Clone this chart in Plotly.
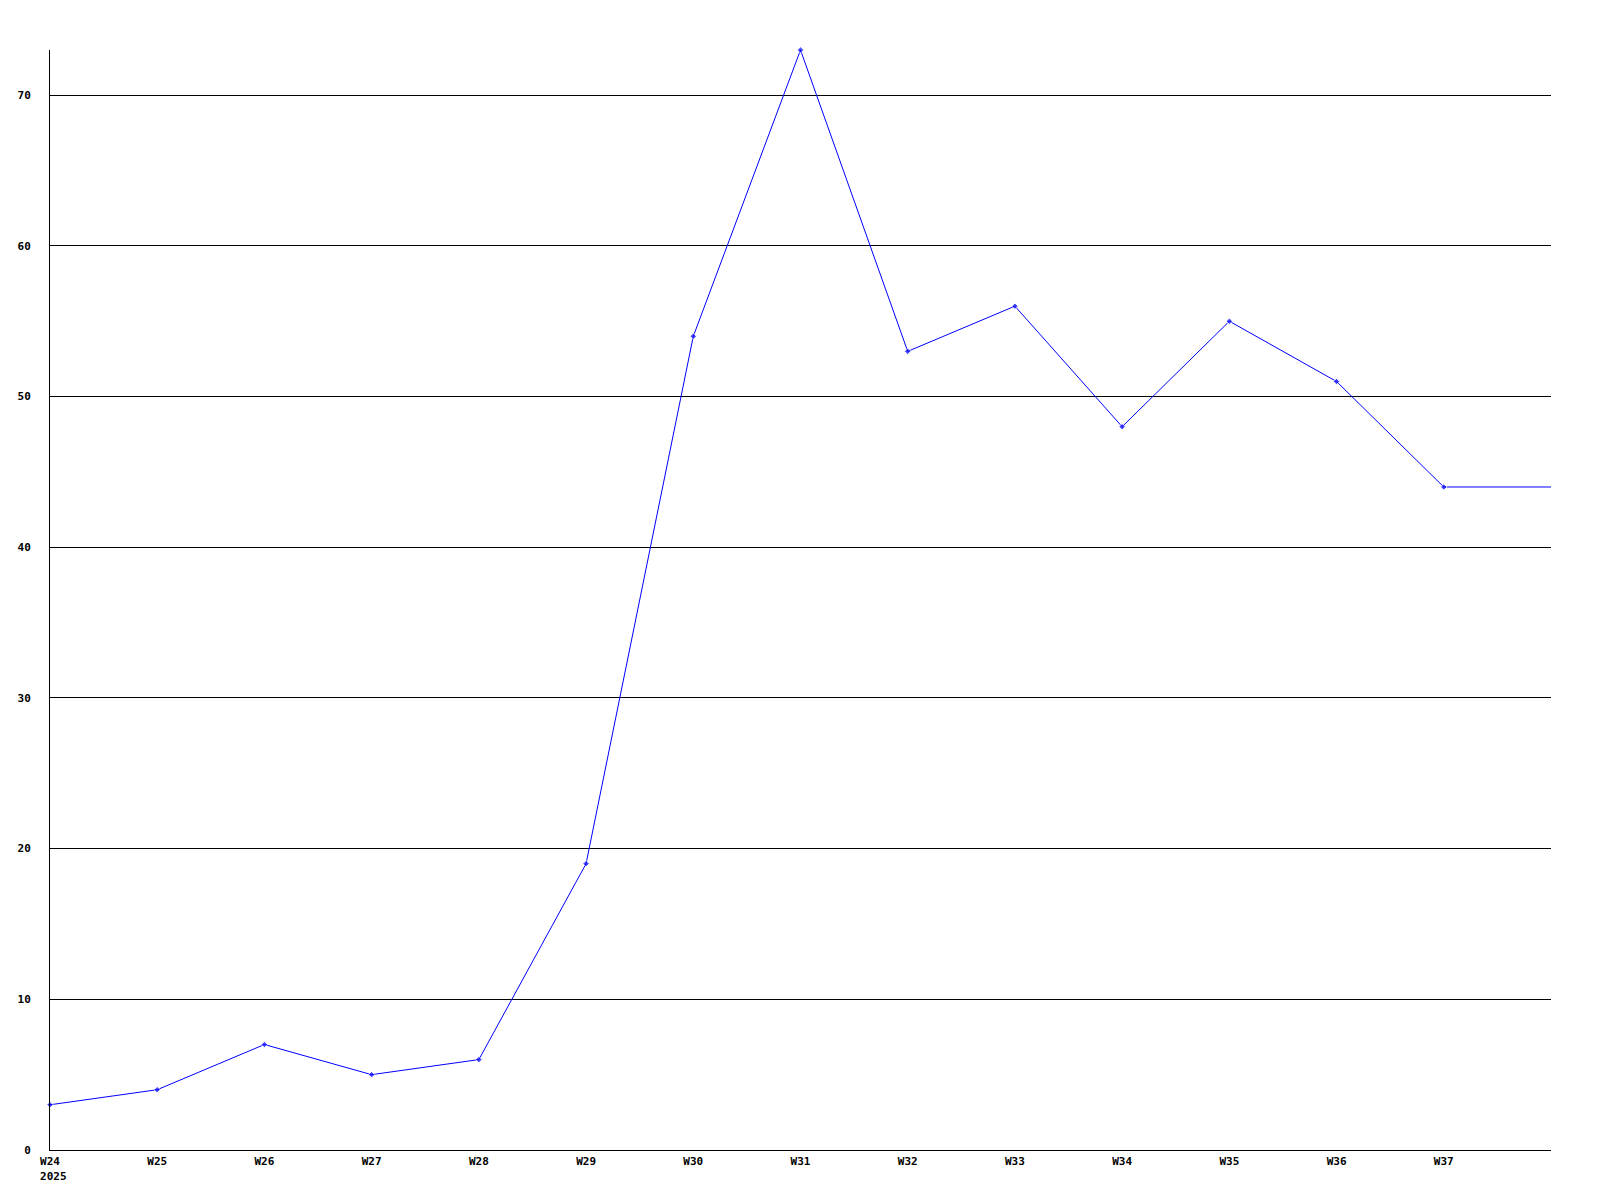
import plotly.graph_objects as go

weeks = ["W24", "W25", "W26", "W27", "W28", "W29", "W30", "W31", "W32", "W33", "W34", "W35", "W36", "W37", ""]
values = [3, 4, 7, 5, 6, 19, 54, 73, 53, 56, 48, 55, 51, 44, 44]
tick_labels = ["W24<br>&nbsp;2025", "W25", "W26", "W27", "W28", "W29", "W30", "W31", "W32", "W33", "W34", "W35", "W36", "W37"]
y_ticks = [0, 10, 20, 30, 40, 50, 60, 70]

x = list(range(len(values)))
marker_sizes = [5] * (len(values) - 1) + [0]

fig = go.Figure()
fig.add_trace(go.Scatter(
    x=x, y=values, mode="lines+markers",
    line=dict(color="#0000ff", width=1),
    marker=dict(color="#0000ff", size=marker_sizes, symbol="diamond"),
    cliponaxis=False, hoverinfo="skip",
))

font = dict(family="DejaVu Sans Mono", size=11, color="#000000", weight="bold")

fig.update_layout(
    width=1600, height=1200,
    margin=dict(l=42, r=57, t=42, b=58, autoexpand=False),
    paper_bgcolor="white", plot_bgcolor="white",
    showlegend=False,
    font=font,
)
fig.update_xaxes(
    range=[0, 14], tickmode="array", tickvals=list(range(len(tick_labels))), ticktext=tick_labels,
    showgrid=False, zeroline=False, showline=True, linecolor="black", linewidth=1,
    ticks="", tickfont=font, ticklabelstandoff=1,
)
fig.update_yaxes(
    range=[0, 73], tickmode="array", tickvals=y_ticks,
    showgrid=True, gridcolor="black", gridwidth=1, zeroline=False,
    showline=True, linecolor="black", linewidth=1,
    ticks="", tickfont=font, ticklabelstandoff=16,
)

fig.write_html("out.html")
